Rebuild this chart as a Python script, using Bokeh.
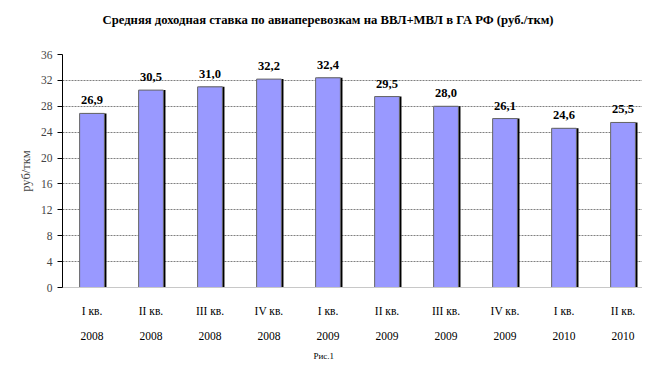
from bokeh.plotting import figure
from bokeh.models import Range1d, LinearAxis, FixedTicker, Grid, Title, ColumnDataSource
from bokeh.transform import dodge
from bokeh.core.properties import value
from bokeh.embed import file_html
from bokeh.resources import INLINE

# ---- data ----
quarters = ["I кв.", "II кв.", "III кв.", "IV кв.", "I кв.",
            "II кв.", "III кв.", "IV кв.", "I кв.", "II кв."]
years = ["2008", "2008", "2008", "2008", "2009",
         "2009", "2009", "2009", "2010", "2010"]
values = [26.9, 30.5, 31.0, 32.2, 32.4, 29.5, 28.0, 26.1, 24.6, 25.5]
value_labels = ["26,9", "30,5", "31,0", "32,2", "32,4",
                "29,5", "28,0", "26,1", "24,6", "25,5"]
y_ticks = [0, 4, 8, 12, 16, 20, 24, 28, 32, 36]

title_text = "Средняя доходная ставка по авиаперевозкам на ВВЛ+МВЛ в ГА РФ (руб./ткм)"
y_label = "руб/ткм"
caption = "Рис.1"

SERIF = "'Liberation Serif', 'Times New Roman', serif"

idx = list(range(len(values)))
src = ColumnDataSource(dict(x=idx, top=values, label=value_labels))

p = figure(width=642, height=366, output_backend="svg", toolbar_location=None,
           x_range=Range1d(-0.5, 9.33), y_range=Range1d(y_ticks[0], y_ticks[-1]),
           x_axis_type=None,
           min_border_left=62, min_border_right=0, min_border_top=54, min_border_bottom=78)
p.background_fill_color = "white"
p.border_fill_color = "white"
p.outline_line_color = None

# title: an empty spacer title next to the frame, then the real title above it
p.add_layout(Title(text=" ", text_font_size="12.7px", standoff=7), "above")
p.add_layout(Title(text=title_text, align="left", offset=40, text_font=SERIF,
                   text_font_style="bold", text_font_size="12.7px",
                   text_color="black", standoff=10), "above")

# y axis
ya = p.yaxis[0]
ya.ticker = FixedTicker(ticks=y_ticks)
ya.axis_line_color = "black"
ya.major_tick_line_color = "black"
ya.major_tick_out = 5
ya.major_tick_in = 0
ya.minor_tick_line_color = None
ya.major_label_text_font = SERIF
ya.major_label_text_font_size = "11.5px"
ya.major_label_standoff = 5
ya.axis_label = y_label
ya.axis_label_text_font = SERIF
ya.axis_label_text_font_style = "normal"
ya.axis_label_text_font_size = "12.5px"
ya.axis_label_standoff = 5

# grids
p.ygrid.ticker = FixedTicker(ticks=y_ticks[1:-1])
p.ygrid.grid_line_color = "#808080"
p.ygrid.grid_line_dash = "2 1"
top_grid = Grid(dimension=1, ticker=FixedTicker(ticks=[y_ticks[-1]]),
                grid_line_color="#c8c8c8")
p.add_layout(top_grid, "center")

# x axes (quarters, years)
def make_xaxis(labels, standoff, line_color):
    return LinearAxis(ticker=FixedTicker(ticks=idx),
                      major_label_overrides={i: t for i, t in enumerate(labels)},
                      axis_line_color=line_color,
                      major_tick_line_color=None, major_tick_out=0, major_tick_in=0,
                      minor_tick_line_color=None, minor_tick_out=0, minor_tick_in=0,
                      major_label_standoff=standoff,
                      major_label_text_font=SERIF,
                      major_label_text_font_size="11.5px",
                      major_label_text_color="black")

p.add_layout(make_xaxis(quarters, 17, "#c8c8c8"), "below")
p.add_layout(make_xaxis(years, 12, None), "below")

# bars with shadow
p.vbar(x=dodge("x", 0.035, range=p.x_range), top="top", width=0.42,
       fill_color="black", line_color=None, source=src)
p.vbar(x="x", top="top", width=0.42, fill_color="#9999FF",
       line_color="#666666", line_width=1, source=src)

# value labels
p.text(x="x", y="top", text="label", text_align="center", text_baseline="alphabetic",
       y_offset=-13, text_font=value(SERIF), text_font_style="bold",
       text_font_size="12.5px", text_color="black", source=src)

# caption
p.add_layout(Title(text=caption, align="left", offset=251, text_font=SERIF,
                   text_font_style="normal", text_font_size="9px",
                   text_color="black", standoff=12), "below")

open("out.html", "w").write(file_html(p, INLINE))
